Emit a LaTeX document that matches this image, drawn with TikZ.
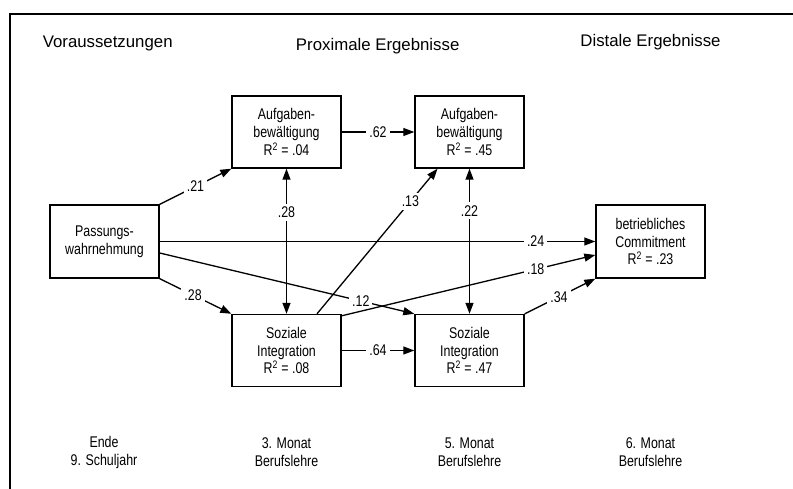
\documentclass[tikz,border=0pt]{standalone}
\usepackage{fontspec}
\setmainfont{Liberation Sans}[FakeStretch=0.8]
\newfontfamily\headfont{Liberation Sans}
\usetikzlibrary{arrows.meta}
\begin{document}
\begin{tikzpicture}[x=1pt,y=-1pt,
  >={Triangle[length=11pt,width=8pt]},
  box/.style={draw, line width=1.4pt, rectangle, minimum width=109pt,
    minimum height=72pt, inner sep=0pt, align=center,
    font=\fontsize{15.5}{17.8}\selectfont},
  head/.style={anchor=base, font=\headfont\fontsize{16.8}{20}\selectfont},
  timelabel/.style={align=center, font=\fontsize{15.5}{18}\selectfont},
  link/.style={draw, line width=1.3pt, ->},
  corr/.style={draw, line width=1.3pt, <->},
  coef/.style={fill=white, inner sep=3pt, font=\fontsize{15.5}{17}\selectfont}
]
\useasboundingbox (0,0) rectangle (793,489);

% frame
\draw[line width=2.7pt] (10,489) -- (10,14) -- (793,14);

% column headings
\node[head] (h1) at (107.7,48) {Voraussetzungen};
\node[head] (h2) at (377.7,51) {Proximale Ergebnisse};
\node[head] (h3) at (650.5,47) {Distale Ergebnisse};

% variables
\node[box, minimum height=73pt] (p) at (104.5,241.5) {Passungs-\\wahrnehmung};
\node[box] (a1) at (286.5,132) {Aufgaben-\\bewältigung\\R\textsuperscript{2} = .04};
\node[box] (a2) at (469.5,132) {Aufgaben-\\bewältigung\\R\textsuperscript{2} = .45};
\node[box] (s1) at (286.5,350.5) {Soziale\\Integration\\R\textsuperscript{2} = .08};
\node[box] (s2) at (469.5,350.5) {Soziale\\Integration\\R\textsuperscript{2} = .47};
\node[box, minimum height=73pt] (c) at (650.5,241.5) {betriebliches\\Commitment\\R\textsuperscript{2} = .23};

% measurement points
\node[timelabel] (t1) at (104,452) {Ende\\9. Schuljahr};
\node[timelabel] (t2) at (286.5,452) {3. Monat\\Berufslehre};
\node[timelabel] (t3) at (469.5,452) {5. Monat\\Berufslehre};
\node[timelabel] (t4) at (650.5,452) {6. Monat\\Berufslehre};

% paths
\draw[link] (p.north east) -- node[coef,pos=.5]{.21} (a1.south west);
\draw[link] (a1) -- node[coef]{.62} (a2);
\draw[corr] (a1) -- node[coef,pos=.3]{.28} (s1);
\draw[corr] (a2) -- node[coef,pos=.29]{.22} (s2);
\draw[link] ([xshift=30.5pt]s1.north) -- node[coef,pos=.775]{.13} ([xshift=-32pt]a2.south);
\draw[link] (p) -- node[coef,pos=.863]{.24} (c);
\draw[link] ([yshift=-11.5pt]p.east) -- node[coef,pos=.79]{.12} (s2.north west);
\draw[link] (p.south east) -- node[coef,pos=.466]{.28} (s1.north west);
\draw[link] (s1) -- node[coef]{.64} (s2);
\draw[link] (s2.north east) -- node[coef,pos=.486]{.34} (c.south west);
\draw[link] ([yshift=-2pt]s1.north east) -- node[coef,pos=.765]{.18} ([yshift=-13.5pt]c.west);
\end{tikzpicture}
\end{document}
